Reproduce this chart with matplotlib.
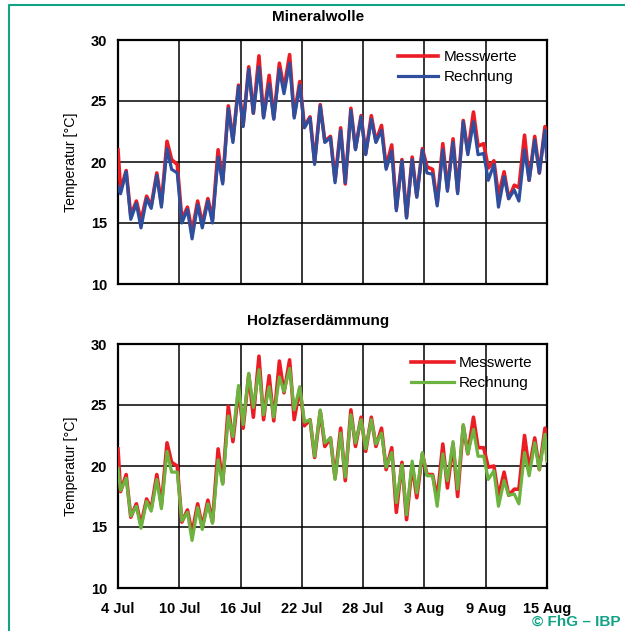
#Temperaturverlauf Mineralwolle / Holzfaserdaemmung
import numpy as np
import matplotlib
matplotlib.use('Agg')
import matplotlib.pyplot as plt
from matplotlib.lines import Line2D

plt.rcParams['font.family'] = ['Liberation Sans', 'DejaVu Sans']

# x axis: days after 4 Jul, ticks every 6 days
tick_days = [0, 6, 12, 18, 24, 30, 36, 42]
tick_labels = ['4 Jul', '10 Jul', '16 Jul', '22 Jul', '28 Jul', '3 Aug', '9 Aug', '15 Aug']

# values: daily minimum (early morning) and maximum (evening), per day
mw_mess_start, mw_mess_end = 21.0, 20.4
mw_mess_min = [17.7, 15.6, 15.2, 16.4, 16.6, 20.2, 15.3, 14.3, 14.9, 15.3, 18.4, 21.8, 23.0, 24.0,
               23.7, 23.6, 26.0, 23.8, 22.9, 20.0, 21.7, 18.5, 18.2, 21.1, 20.7, 21.7, 19.6, 16.2,
               15.5, 17.2, 19.6, 16.6, 17.8, 17.6, 20.8, 21.3, 19.5, 17.2, 17.0, 17.9, 18.5, 19.1]
mw_mess_max = [19.3, 16.8, 17.2, 19.1, 21.7, 19.8, 16.3, 16.8, 17.0, 21.0, 24.6, 26.3, 27.8, 28.7,
               27.1, 28.1, 28.8, 26.6, 23.7, 24.7, 22.1, 22.8, 24.4, 23.8, 23.8, 23.0, 21.4, 20.2,
               20.4, 21.1, 19.4, 21.5, 21.9, 23.4, 24.1, 21.5, 20.1, 19.2, 18.1, 22.2, 22.1, 22.9]

mw_rech_start, mw_rech_end = 18.0, 20.2
mw_rech_min = [17.4, 15.3, 14.6, 16.2, 16.3, 19.4, 15.0, 13.7, 14.6, 15.0, 18.2, 21.6, 22.9, 24.0,
               23.6, 23.5, 25.6, 23.6, 22.8, 19.8, 21.6, 18.3, 18.3, 21.0, 20.6, 21.6, 19.4, 16.0,
               15.4, 17.1, 19.1, 16.4, 17.6, 17.4, 20.6, 20.6, 18.5, 16.3, 17.0, 16.8, 18.5, 19.1]
mw_rech_max = [19.2, 16.6, 17.0, 18.9, 21.1, 19.1, 16.1, 16.5, 16.8, 20.4, 24.4, 26.2, 27.6, 27.8,
               26.4, 27.6, 28.1, 26.3, 23.6, 24.6, 22.0, 22.6, 24.2, 23.7, 23.5, 22.6, 20.9, 20.1,
               20.2, 21.0, 19.0, 21.0, 21.6, 23.3, 23.3, 20.7, 19.8, 18.8, 17.7, 21.0, 21.8, 22.6]

hf_mess_start, hf_mess_end = 21.4, 20.6
hf_mess_min = [17.9, 15.8, 15.2, 16.5, 16.8, 20.3, 15.4, 14.5, 15.0, 15.4, 18.6, 22.0, 23.1, 24.0,
               23.8, 23.7, 26.0, 23.8, 23.3, 20.7, 21.6, 19.0, 18.8, 21.6, 21.2, 21.6, 19.7, 16.2,
               15.6, 17.4, 19.3, 17.3, 18.2, 17.5, 21.0, 21.5, 19.9, 17.5, 17.6, 18.1, 19.7, 19.7]
hf_mess_max = [19.3, 16.9, 17.3, 19.3, 21.9, 20.0, 16.4, 16.9, 17.2, 21.4, 24.9, 26.2, 27.5, 29.0,
               27.4, 28.6, 28.7, 26.4, 23.8, 24.5, 22.3, 23.1, 24.6, 24.0, 24.0, 23.1, 21.5, 20.3,
               20.1, 21.0, 19.3, 21.8, 21.8, 23.3, 24.0, 21.5, 20.0, 19.5, 18.1, 22.5, 22.3, 23.1]

hf_rech_start, hf_rech_end = 19.8, 20.4
hf_rech_min = [18.0, 15.9, 14.9, 16.3, 16.5, 19.5, 15.5, 13.9, 14.8, 15.3, 18.5, 22.4, 23.4, 24.8,
               24.2, 24.0, 26.1, 24.6, 23.6, 20.8, 21.9, 18.9, 19.1, 21.9, 21.4, 21.8, 19.9, 17.0,
               16.0, 17.8, 19.2, 16.7, 18.8, 18.1, 21.0, 20.8, 18.9, 16.7, 17.6, 16.9, 19.2, 19.7]
hf_rech_max = [19.0, 16.7, 17.1, 18.9, 21.2, 19.5, 16.2, 16.6, 16.9, 20.5, 24.1, 26.6, 27.6, 27.9,
               26.5, 27.3, 28.0, 26.5, 23.8, 24.6, 22.3, 22.7, 24.2, 23.8, 23.8, 22.7, 21.1, 20.1,
               20.4, 21.1, 19.2, 21.0, 22.0, 23.4, 23.0, 20.8, 19.6, 18.8, 17.7, 21.1, 21.9, 22.6]


# min at about 06:00, max at about 19:00 of each day
def build_series(start, mins, maxs, end):
    days = np.arange(len(mins))
    t = np.concatenate([[0.0], np.column_stack([days + 0.25, days + 0.8]).ravel(), [len(mins)]])
    v = np.concatenate([[start], np.column_stack([mins, maxs]).ravel(), [end]])
    return t, v


RED = '#ec1c24'
BLUE = '#2e4f9e'
GREEN = '#6cb33f'
TEAL = '#12a386'

fig = plt.figure(figsize=(6.25, 6.31), dpi=100)
W, H = 625.0, 631.0

panels = [
    ('Mineralwolle', 40, (mw_mess_start, mw_mess_min, mw_mess_max, mw_mess_end),
     (mw_rech_start, mw_rech_min, mw_rech_max, mw_rech_end), BLUE, 398, 50, 2.65),
    ('Holzfaserdämmung', 344, (hf_mess_start, hf_mess_min, hf_mess_max, hf_mess_end),
     (hf_rech_start, hf_rech_min, hf_rech_max, hf_rech_end), GREEN, 411, 356, 2.8),
]

for idx, (title, top_px, mess, rech, rcol, leg_x, leg_y, hlen) in enumerate(panels):
    ax = fig.add_axes([118 / W, 1 - (top_px + 244) / H, 429 / W, 244 / H])
    t, v = build_series(*mess)
    ax.plot(t, v, color=RED, lw=2.6, solid_joinstyle='round', zorder=3)
    t, v = build_series(*rech)
    ax.plot(t, v, color=rcol, lw=2.3, solid_joinstyle='round', zorder=4)

    ax.set_xlim(0, 42)
    ax.set_ylim(10, 30)
    ax.set_yticks([10, 15, 20, 25, 30])
    ax.set_xticks(tick_days)
    if idx == 1:
        ax.set_xticklabels(tick_labels, fontsize=10.5, fontweight='bold')
    else:
        ax.set_xticklabels([])
    for lab in ax.get_yticklabels():
        lab.set_fontweight('bold')
        lab.set_fontsize(10.5)
    ax.tick_params(length=0, pad=8)
    ax.tick_params(axis='x', pad=10)
    ax.grid(True, color='black', lw=1.1)
    ax.set_axisbelow(True)
    for s in ax.spines.values():
        s.set_linewidth(1.6)
    ax.set_ylabel('Temperatur [°C]', fontsize=10.2, labelpad=9)

    fig.text(318 / W, 1 - (top_px - 23) / H, title, ha='center', va='center',
             fontsize=11, fontweight='bold')

    handles = [Line2D([], [], color=RED, lw=2.6), Line2D([], [], color=rcol, lw=2.3)]
    ax.legend(handles, ['Messwerte', 'Rechnung'], loc='upper left',
              bbox_to_anchor=((leg_x - 118) / 429, (top_px + 244 - leg_y) / 244),
              frameon=False, fontsize=11, handlelength=hlen, handletextpad=0.35,
              borderpad=0, borderaxespad=0, labelspacing=0.4)

# copyright and frame corner
fig.text(620 / W, 1 - 622 / H, '© FhG – IBP', ha='right', va='center',
         fontsize=11, fontweight='bold', color=TEAL)
fig.add_artist(Line2D([9 / W, 9 / W, 1], [0, 1 - 4.5 / H, 1 - 4.5 / H],
                      color=TEAL, lw=1.5, transform=fig.transFigure))

fig.savefig('out.png', dpi=100)
